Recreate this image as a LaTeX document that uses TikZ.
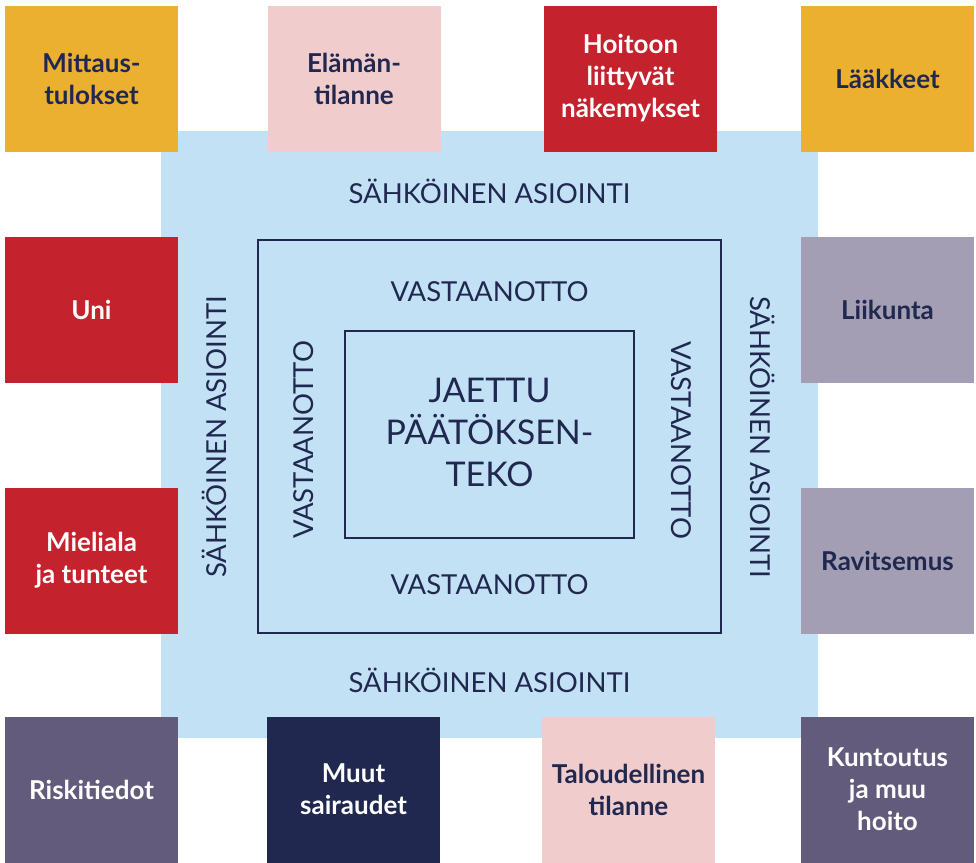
\documentclass[tikz,border=0pt]{standalone}
\usepackage{fontspec}
\setmainfont{Lato}
\usetikzlibrary{positioning}

\definecolor{keltainen}{HTML}{ECB030}
\definecolor{roosa}{HTML}{F0CCCD}
\definecolor{punainen}{HTML}{C4232D}
\definecolor{harmaalila}{HTML}{A39EB3}
\definecolor{violetti}{HTML}{625B7C}
\definecolor{tummasini}{HTML}{212850}
\definecolor{vaaleasini}{HTML}{C2E1F5}

\begin{document}
\begin{tikzpicture}[x = 1pt, y = -1pt, % pixel units
                every node/.style = {inner sep = 0pt, align = center,
                text = tummasini},
                tieto/.style = {minimum width = 173pt, minimum height = 146pt,
                font = \bfseries\fontsize{26}{32}\selectfont},
                vaalea/.style = {tieto, text = tummasini},
                tumma/.style = {tieto, text = white},
                kehys/.style = {draw = tummasini, line width = 1.8pt},
                otsikko/.style = {font = \fontsize{27.5}{32}\selectfont}
            ]

            \useasboundingbox (0,0) rectangle (976,862);

            % background area
            \node (tausta) [fill = vaaleasini, minimum width = 657pt,
            minimum height = 607pt] at (489.5,434) {};

            % frames
            \node (ulko) [kehys, minimum width = 463pt, minimum height = 393pt]
            at (489.5,436.5) {};
            \node (sisa) [kehys, minimum width = 289pt, minimum height = 207pt]
            at (489.5,434.8) {};

            % top row
            \node (mittaus) [vaalea, fill = keltainen] at (91.5,78.5)
            {Mittaus-\\tulokset};
            \node (elama) [vaalea, fill = roosa] at (354,78.5)
            {Elämän-\\tilanne};
            \node (hoitoon) [tumma, fill = punainen] at (630.5,78.5)
            {Hoitoon\\liittyvät\\näkemykset};
            \node (laakkeet) [vaalea, fill = keltainen] at (887.5,78.5)
            {Lääkkeet};

            % sides
            \node (uni) [tumma, fill = punainen] at (91.5,309.5) {Uni};
            \node (mieliala) [tumma, fill = punainen] at (91.5,560.5)
            {Mieliala\\ja tunteet};
            \node (liikunta) [vaalea, fill = harmaalila] at (887.5,309.5)
            {Liikunta};
            \node (ravitsemus) [vaalea, fill = harmaalila] at (887.5,560.5)
            {Ravitsemus};

            % bottom row
            \node (riski) [tumma, fill = violetti] at (91.5,789.5)
            {Riskitiedot};
            \node (muut) [tumma, fill = tummasini] at (353.5,789.5)
            {Muut\\sairaudet};
            \node (talous) [vaalea, fill = roosa] at (628.5,789.5)
            {Taloudellinen\\tilanne};
            \node (kuntoutus) [tumma, fill = violetti] at (887.5,789.5)
            {Kuntoutus\\ja muu\\hoito};

            % electronic services
            \node (sa1) [otsikko] at (489.5,191) {SÄHKÖINEN ASIOINTI};
            \node (sa2) [otsikko] at (489.5,680) {SÄHKÖINEN ASIOINTI};
            \node (sa3) [otsikko, rotate = 90] at (214,437) {SÄHKÖINEN ASIOINTI};
            \node (sa4) [otsikko, rotate = -90] at (763,437) {SÄHKÖINEN ASIOINTI};

            % appointments
            \node (va1) [otsikko] at (489.5,292) {VASTAANOTTO};
            \node (va2) [otsikko] at (489.5,585) {VASTAANOTTO};
            \node (va3) [otsikko, rotate = 90] at (304,440) {VASTAANOTTO};
            \node (va4) [otsikko, rotate = -90] at (681,440) {VASTAANOTTO};

            \node (jaettu) [font = \fontsize{34}{42}\selectfont] at (489.5,432)
            {JAETTU\\PÄÄTÖKSEN-\\TEKO};

        \end{tikzpicture}
\end{document}
